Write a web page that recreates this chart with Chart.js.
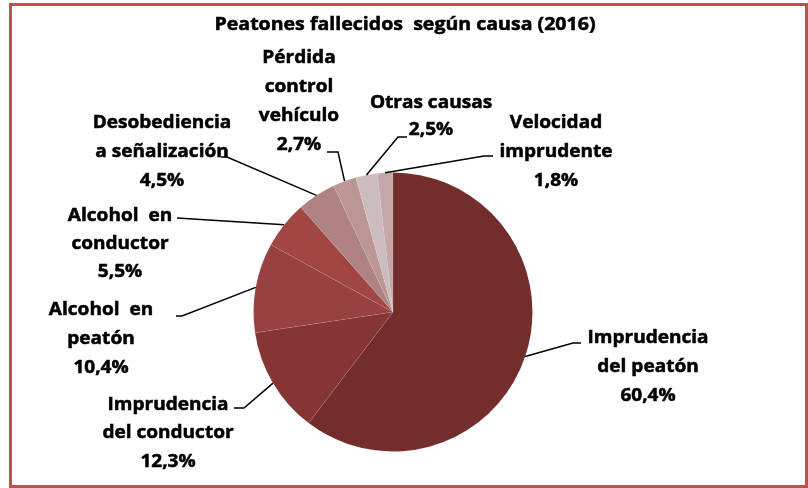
<!DOCTYPE html>
<html>
<head>
<meta charset="utf-8">
<script src="https://cdn.jsdelivr.net/npm/chart.js@4/dist/chart.umd.min.js"></script>
<style>
  body { margin: 0; background: #fff; }
  #wrap { width: 808px; height: 488px; }
</style>
</head>
<body>
<div id="wrap"><canvas id="peatonesChart" width="808" height="488"></canvas></div>
<script>
// datos del grafico
const titulo = 'Peatones fallecidos  según causa (2016)';
const causas = ['Imprudencia del peatón', 'Imprudencia del conductor', 'Alcohol en peatón', 'Alcohol en conductor',
    'Desobediencia a señalización', 'Pérdida control vehículo', 'Otras causas', 'Velocidad imprudente'];
const porcentajes = [60.4, 12.3, 10.4, 5.5, 4.5, 2.7, 2.5, 1.8];
const lineasEtiqueta = [
    ['Imprudencia', 'del peatón'],
    ['Imprudencia', 'del conductor'],
    ['Alcohol  en', 'peatón'],
    ['Alcohol  en', 'conductor'],
    ['Desobediencia', 'a señalización'],
    ['Pérdida', 'control', 'vehículo'],
    ['Otras causas'],
    ['Velocidad', 'imprudente'],
];

// estilos y posiciones de las etiquetas
const colores = ['#732D2D', '#853533', '#984141', '#A24644', '#B08383', '#BC9595', '#CDBCBE', '#C3A7A9'];
const posEtiqueta = [[648, 338], [168, 405], [101, 310], [120, 216], [162, 123], [299, 58], [431, 103], [556, 123]];
const altoLinea = [29, 28.5, 29, 28, 29, 29, 27, 29];
const codos = [
    [[581, 343], [573, 343]],
    [[234, 408], [244, 408]],
    [[176, 316], [182, 316]],
    [[177, 218]],
    [[221, 157], [227, 157]],
    [[327, 152], [338, 152]],
    [[407, 137], [398, 137]],
    [[493, 156], [484, 156]],
];

const formato = (v) => v.toFixed(1).replace('.', ',') + '%';

// texto un poco ensanchado, como la fuente del original
const textoAncho = (ctx, t, x, y, sx) => {
    ctx.save();
    ctx.translate(x, y);
    ctx.scale(sx, 1);
    ctx.strokeText(t, 0, 0);
    ctx.fillText(t, 0, 0);
    ctx.restore();
}

const etiquetasPlugin = {
    id: 'etiquetas',
    afterDraw(chart) {
        const ctx = chart.ctx;
        const meta = chart.getDatasetMeta(0);
        ctx.save();

        // marco
        ctx.strokeStyle = '#C0504D';
        ctx.lineWidth = 3;
        ctx.strokeRect(10.5, 4.5, 796, 482);

        // lineas guia
        ctx.strokeStyle = '#000';
        ctx.lineWidth = 1.5;
        meta.data.forEach((arc, i) => {
            const p = arc.getProps(['x', 'y', 'startAngle', 'endAngle', 'outerRadius'], true);
            const mid = (p.startAngle + p.endAngle) / 2;
            const ex = p.x + Math.cos(mid) * p.outerRadius;
            const ey = p.y + Math.sin(mid) * p.outerRadius;
            ctx.beginPath();
            codos[i].forEach((pt, k) => {
                if (k === 0) ctx.moveTo(pt[0], pt[1]);
                else ctx.lineTo(pt[0], pt[1]);
            });
            ctx.lineTo(ex, ey);
            ctx.stroke();
        });

        // titulo y textos
        ctx.fillStyle = '#000';
        ctx.strokeStyle = '#000';
        ctx.lineWidth = 0.5;
        ctx.textAlign = 'center';
        ctx.textBaseline = 'middle';
        ctx.font = 'bold 17px "Open Sans"';
        textoAncho(ctx, titulo, 405, 25, 1.15);

        porcentajes.forEach((v, i) => {
            const lineas = lineasEtiqueta[i].concat([formato(v)]);
            const [x, y] = posEtiqueta[i];
            lineas.forEach((t, k) => {
                textoAncho(ctx, t, x, y + k * altoLinea[i], 1.12);
            });
        });
        ctx.restore();
    }
};

const ctx = document.getElementById('peatonesChart').getContext('2d');
new Chart(ctx, {
    type: 'pie',
    data: {
        labels: causas,
        datasets: [{
            data: porcentajes,
            backgroundColor: colores,
            borderColor: 'rgba(255,255,255,0.08)',
            borderWidth: 1,
        }],
    },
    options: {
        responsive: false,
        animation: false,
        layout: { padding: { left: 253, right: 275, top: 172, bottom: 36 } },
        plugins: {
            legend: { display: false },
            tooltip: { enabled: false },
        },
    },
    plugins: [etiquetasPlugin],
});
</script>
</body>
</html>
